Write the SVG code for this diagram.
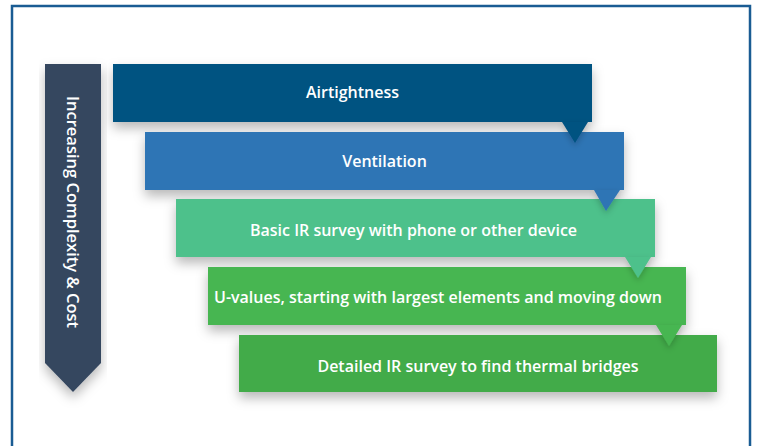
<svg xmlns="http://www.w3.org/2000/svg" width="758" height="446" viewBox="0 0 758 446">
  <defs>
    <filter id="shadow" x="-10%" y="-30%" width="120%" height="180%">
      <feDropShadow dx="0" dy="6" stdDeviation="6" flood-color="#000" flood-opacity="0.28"/>
    </filter>
    <filter id="tipShadow" x="-50%" y="-50%" width="200%" height="200%">
      <feDropShadow dx="0" dy="3" stdDeviation="3" flood-color="#000" flood-opacity="0.22"/>
    </filter>
  </defs>
  <style>
    .label { font-family: "Open Sans", "Liberation Sans", sans-serif; font-weight: 600; font-size: 16px; fill: #ffffff; text-anchor: middle; dominant-baseline: central; }
    .axis { font-family: "Open Sans", "Liberation Sans", sans-serif; font-weight: 600; font-size: 16.5px; fill: #ffffff; text-anchor: middle; dominant-baseline: central; }
    .bar { filter: url(#shadow); }
    .tip { filter: url(#tipShadow); }
  </style>

  <rect width="758" height="446" fill="#ffffff"/>
  <!-- frame -->
  <rect x="12" y="6" width="738" height="470" fill="none" stroke="#1a5c93" stroke-width="2.5"/>

  <!-- vertical axis arrow -->
  <g id="axis-arrow">
    <path class="bar" d="M45,64 H101 V363 L73,392 L45,363 Z" fill="#34475f"/>
    <text class="axis" transform="translate(73,212) rotate(90)">Increasing Complexity &amp; Cost</text>
  </g>

  <g id="step-airtightness">
    <rect class="bar" x="113" y="64" width="479" height="58" fill="#045281"/>
    <text class="label" x="352.5" y="92">Airtightness</text>
  </g>
  <g id="step-ventilation">
    <rect class="bar" x="145" y="132" width="479" height="58" fill="#2f74b5"/>
    <text class="label" x="384.5" y="161">Ventilation</text>
  </g>
  <g id="step-basic-ir">
    <rect class="bar" x="176" y="199" width="479" height="58" fill="#4dc18b"/>
    <text class="label" x="413.5" y="230">Basic IR survey with phone or other device</text>
  </g>
  <g id="step-u-values">
    <rect class="bar" x="208" y="267" width="478" height="58" fill="#47b651"/>
    <text class="label" x="438" y="297">U-values, starting with largest elements and moving down</text>
  </g>
  <g id="step-detailed-ir">
    <rect class="bar" x="239" y="335" width="478" height="57" fill="#42ab48"/>
    <text class="label" x="478" y="366">Detailed IR survey to find thermal bridges</text>
  </g>

  <!-- pointers from each step to the next -->
  <g id="connectors">
    <path class="tip" d="M562,122 H588 L575,143 Z" fill="#045281"/>
    <path class="tip" d="M594,190 H620 L606,211 Z" fill="#2f74b5"/>
    <path class="tip" d="M625,257 H651 L638,278 Z" fill="#4dc18b"/>
    <path class="tip" d="M656,325 H682 L669,346 Z" fill="#47b651"/>
  </g>
</svg>
